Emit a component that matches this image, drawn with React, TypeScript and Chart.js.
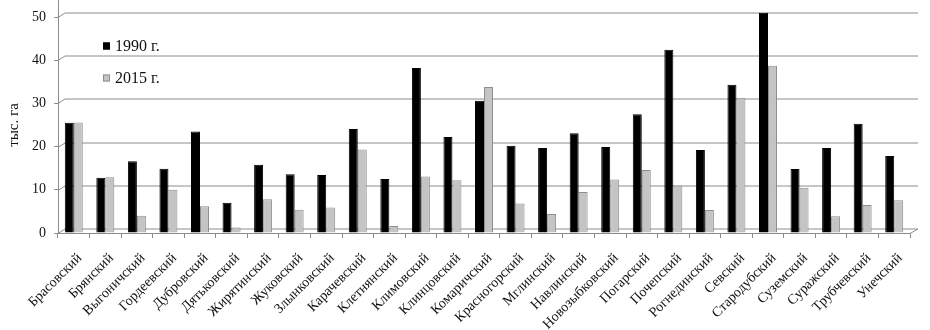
import React, { useEffect, useRef } from 'react';
import { Chart, registerables } from 'chart.js';

Chart.register(...registerables);

const categories = [
  'Брасовский', 'Брянский', 'Выгоничский', 'Гордеевский', 'Дубровский', 'Дятьковский',
  'Жирятинский', 'Жуковский', 'Злынковский', 'Карачевский', 'Клетнянский', 'Климовский',
  'Клинцовский', 'Комаричский', 'Красногорский', 'Мглинский', 'Навлинский', 'Новозыбковский',
  'Погарский', 'Почепский', 'Рогнединский', 'Севский', 'Стародубский', 'Суземский',
  'Суражский', 'Трубчевский', 'Унечский',
];

const values1990 = [
  25.5, 12.8, 16.6, 14.9, 23.5, 7.0, 15.8, 13.6, 13.4, 24.1, 12.5, 38.2, 22.2, 30.6,
  20.2, 19.7, 23.1, 19.9, 27.5, 42.4, 19.2, 34.3, 51.0, 14.8, 19.7, 25.3, 17.8,
];

const values2015 = [
  25.6, 12.9, 4.0, 10.0, 6.2, 1.3, 7.8, 5.4, 5.9, 19.3, 1.6, 13.1, 12.2, 33.8,
  6.8, 4.4, 9.5, 12.4, 14.6, 11.0, 5.3, 31.2, 38.7, 10.5, 3.9, 6.5, 7.6,
];

const seriesLabels = ['1990 г.', '2015 г.'];
const yTickValues = [0, 10, 20, 30, 40, 50];
const yTitle = 'тыс. га';

const FONT = "'Liberation Serif', 'Times New Roman', serif";
const GRID = '#8c8c8c';
const TEXT = '#111111';

const wallPlugin = {
  id: 'wall3d',
  beforeDatasetsDraw(chart: any) {
    const ctx = chart.ctx;
    const a = chart.chartArea;
    const ys = chart.scales.y;
    ctx.save();
    ctx.strokeStyle = GRID;
    ctx.lineWidth = 1;
    ctx.beginPath();
    ys.ticks.forEach((t: any) => {
      const py = Math.round(ys.getPixelForValue(t.value)) + 0.5;
      ctx.moveTo(a.left, py);
      ctx.lineTo(a.left + 7, py - 4.5);
      ctx.lineTo(a.right + 8, py - 4.5);
    });
    const by = Math.round(a.bottom) + 0.5;
    ctx.moveTo(a.right, by);
    ctx.lineTo(a.right + 8, by - 4.5);
    const lx = Math.round(a.left) + 0.5;
    ctx.moveTo(lx, 0);
    ctx.lineTo(lx, a.top);
    ctx.stroke();
    ctx.restore();
  },
};

const legendPlugin = {
  id: 'insideLegend',
  afterDatasetsDraw(chart: any) {
    const ctx = chart.ctx;
    const a = chart.chartArea;
    ctx.save();
    ctx.font = `16px ${FONT}`;
    ctx.textBaseline = 'middle';
    ctx.textAlign = 'left';
    chart.data.datasets.forEach((ds: any, i: number) => {
      const bx = a.left + 45;
      const by = a.top + 25.5 + i * 32;
      ctx.fillStyle = ds.backgroundColor;
      ctx.fillRect(bx, by, 7, 7);
      ctx.strokeStyle = ds.borderColor;
      ctx.lineWidth = 1;
      ctx.strokeRect(bx + 0.5, by + 0.5, 6, 6);
      ctx.fillStyle = TEXT;
      ctx.fillText(ds.label, bx + 12, by + 4);
    });
    ctx.restore();
  },
};

export default function App() {
  const canvasRef = useRef<HTMLCanvasElement | null>(null);

  useEffect(() => {
    if (!canvasRef.current) return;
    const chart = new Chart(canvasRef.current, {
      type: 'bar',
      data: {
        labels: categories,
        datasets: [
          {
            label: seriesLabels[0],
            data: values1990,
            backgroundColor: '#000000',
            borderColor: '#000000',
            borderWidth: 1,
            categoryPercentage: 0.57,
            barPercentage: 1,
            clip: false as any,
          },
          {
            label: seriesLabels[1],
            data: values2015,
            backgroundColor: '#c4c4c4',
            borderColor: '#8e8e8e',
            borderWidth: 1,
            categoryPercentage: 0.57,
            barPercentage: 1,
            clip: false as any,
          },
        ],
      },
      options: {
        animation: false,
        responsive: false,
        maintainAspectRatio: false,
        layout: { padding: { top: 17, right: 20, left: 0, bottom: 0 } },
        plugins: {
          legend: { display: false },
          tooltip: { enabled: false },
        },
        scales: {
          x: {
            grid: {
              display: true,
              drawOnChartArea: false,
              drawTicks: true,
              tickLength: 5,
              color: GRID,
              offset: true,
            },
            border: { display: true, color: GRID },
            ticks: {
              autoSkip: false,
              maxRotation: 45,
              minRotation: 45,
              padding: 12,
              labelOffset: 6,
              color: TEXT,
              font: { family: FONT, size: 14 },
            },
            afterFit: (scale: any) => {
              scale.height = 97;
            },
          },
          y: {
            min: 0,
            max: 50,
            afterBuildTicks: (scale: any) => {
              scale.ticks = yTickValues.map((v) => ({ value: v }));
            },
            grid: {
              display: true,
              drawOnChartArea: false,
              drawTicks: true,
              tickLength: 4,
              color: GRID,
            },
            border: { display: true, color: GRID },
            ticks: {
              padding: 8,
              color: TEXT,
              font: { family: FONT, size: 14 },
            },
            title: {
              display: true,
              text: yTitle,
              color: TEXT,
              font: { family: FONT, size: 15 },
              padding: { top: 5, bottom: 0 },
            },
            afterFit: (scale: any) => {
              scale.width = 58;
            },
          },
        },
      },
      plugins: [wallPlugin, legendPlugin],
    });
    return () => chart.destroy();
  }, []);

  return (
    <div style={{ position: 'fixed', left: 0, top: 0, width: 930, height: 330, background: '#fff' }}>
      <canvas ref={canvasRef} width={930} height={330} style={{ width: 930, height: 330, display: 'block' }} />
    </div>
  );
}
